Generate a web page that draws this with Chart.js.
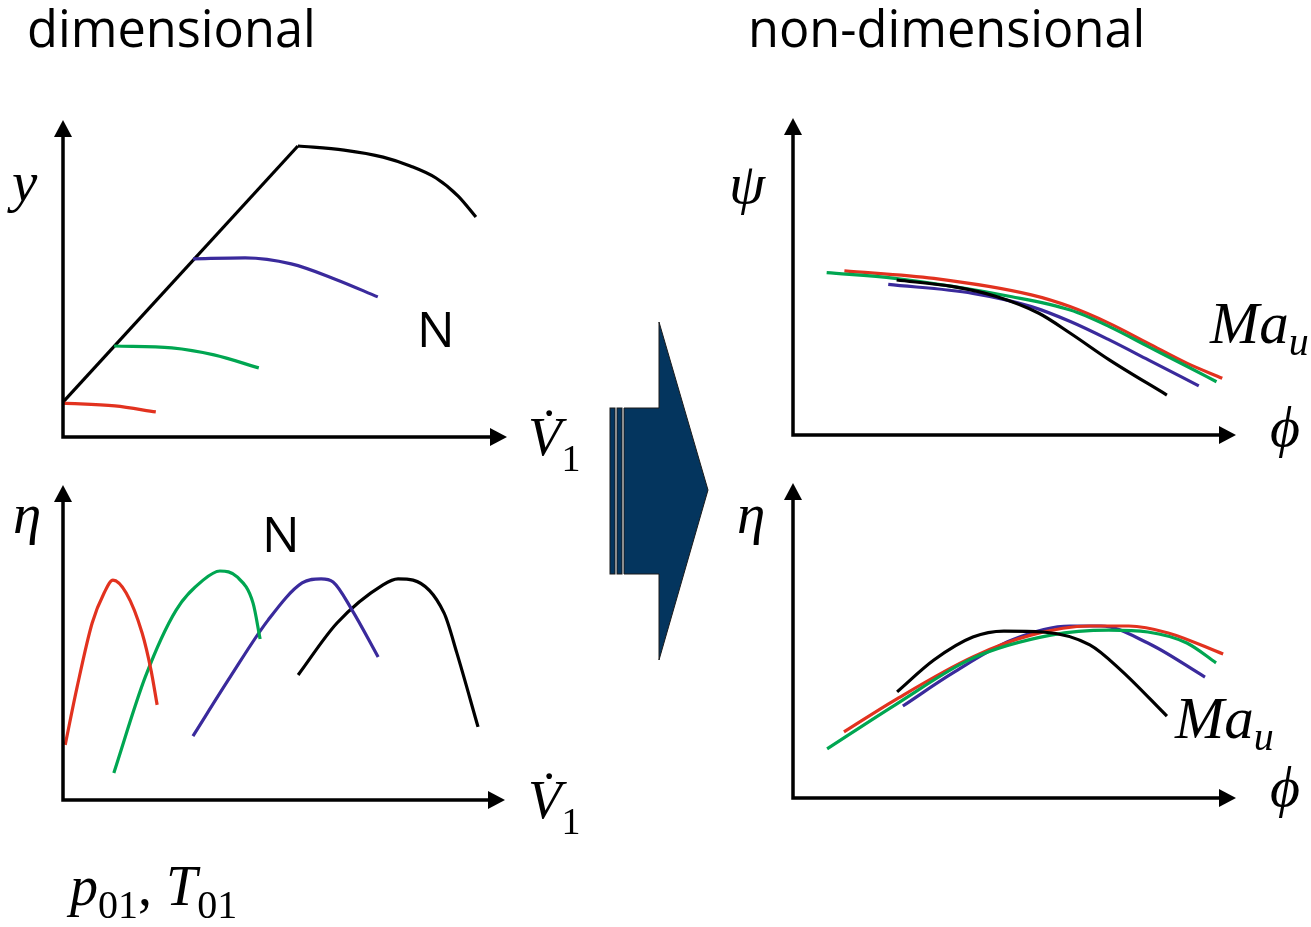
<!DOCTYPE html>
<html>
<head>
<meta charset="utf-8">
<script src="https://cdn.jsdelivr.net/npm/chart.js@4.4.1/dist/chart.umd.min.js"></script>
<style>
  html, body { margin: 0; padding: 0; background: #fff; }
  #page { position: relative; width: 1311px; height: 927px; overflow: hidden; }
  .panel { position: absolute; }
  #overlay { position: absolute; left: 0; top: 0; }
  .sans { font-family: "Open Sans", "Noto Sans", sans-serif; fill: #000; }
  .math { font-family: "Liberation Serif", "DejaVu Serif", serif; font-style: italic; fill: #000; }
  .up { font-style: normal; }
</style>
</head>
<body>
<div id="page">
  <div class="panel" style="left:40px;top:100px"><canvas id="dimHead" width="490" height="350"></canvas></div>
  <div class="panel" style="left:40px;top:465px"><canvas id="dimEff" width="490" height="350"></canvas></div>
  <div class="panel" style="left:770px;top:98px"><canvas id="ndHead" width="490" height="350"></canvas></div>
  <div class="panel" style="left:770px;top:463px"><canvas id="ndEff" width="490" height="350"></canvas></div>

  <svg id="overlay" width="1311" height="927">
    <!-- big transition arrow -->
    <rect x="610" y="408" width="5" height="166" fill="#04355e" stroke="#1b1b1b" stroke-width="1"/>
    <rect x="617" y="408" width="5" height="166" fill="#04355e" stroke="#1b1b1b" stroke-width="1"/>
    <polygon points="624,408 659,408 659,322 708,490 659,660 659,574 624,574"
             fill="#04355e" stroke="#1b1b1b" stroke-width="1"/>

    <text class="sans" x="27" y="47" font-size="50.5">dimensional</text>
    <text class="sans" x="748" y="47" font-size="50.5">non-dimensional</text>

    <text class="math" x="12" y="201" font-size="57">y</text>
    <text class="sans" x="417" y="347" font-size="50">N</text>
    <text class="math" x="528" y="455" font-size="55">V&#775;<tspan class="up" font-size="38" dy="16">1</tspan></text>

    <text class="math" x="13" y="533" font-size="57">η</text>
    <text class="sans" x="262" y="552" font-size="50">N</text>
    <text class="math" x="528" y="818" font-size="55">V&#775;<tspan class="up" font-size="38" dy="16">1</tspan></text>

    <text class="math" x="729" y="203" font-size="58">ψ</text>
    <text class="math" x="1210" y="343" font-size="59">Ma<tspan font-size="40" dy="12">u</tspan></text>
    <text class="math" x="1270" y="446" font-size="58">ϕ</text>

    <text class="math" x="737" y="533" font-size="57">η</text>
    <text class="math" x="1175" y="738" font-size="59">Ma<tspan font-size="40" dy="12">u</tspan></text>
    <text class="math" x="1270" y="806" font-size="58">ϕ</text>

    <text class="math" x="70" y="905" font-size="56">p<tspan class="up" font-size="40" dy="13">01</tspan><tspan class="up" dy="-13">, </tspan>T<tspan class="up" font-size="40" dy="13">01</tspan></text>
  </svg>
</div>

<script>
// Values in axis units: 0..10 along each axis
// (0 = origin, 10 = arrow tip).

const RED = '#e2321f';
const GREEN = '#00a651';
const BLUE = '#3a2a9c';
const BLACK = '#000000';

// dimensional: pressure-rise line vs volume flow
const dimSurgeLine = [[0, 1.10], [5.29, 9.18]];
const dimHeadRed = [[0, 1.07], [1.17, 0.98], [2.09, 0.79]];
const dimHeadGreen = [[1.15, 2.87], [2.45, 2.81], [3.40, 2.59], [4.41, 2.18]];
const dimHeadBlue = [[2.93, 5.62], [4.10, 5.65], [5.14, 5.46], [6.13, 4.98], [7.09, 4.42]];
const dimHeadBlack = [[5.29, 9.18], [6.33, 9.05], [7.21, 8.83], [7.82, 8.55], [8.40, 8.17], [8.90, 7.60], [9.30, 6.94]];

// dimensional: efficiency vs volume flow
const dimEffRed = [[0.05, 1.75], [0.32, 3.59], [0.66, 5.62], [0.93, 6.57], [1.13, 6.98], [1.43, 6.57], [1.79, 5.30], [1.99, 4.13], [2.13, 3.02]];
const dimEffGreen = [[1.15, 0.86], [1.86, 3.90], [2.56, 6.03], [3.17, 6.98], [3.55, 7.27], [3.94, 7.08], [4.30, 6.25], [4.46, 5.11]];
const dimEffBlue = [[2.94, 2.03], [3.78, 3.90], [4.64, 5.71], [5.41, 6.89], [5.84, 7.02], [6.11, 6.92], [6.54, 6.03], [7.13, 4.54]];
const dimEffBlack = [[5.32, 3.97], [6.20, 5.62], [7.24, 6.83], [7.58, 7.02], [7.92, 6.98], [8.62, 5.94], [8.91, 4.67], [9.39, 2.32]];

// non-dimensional: work coefficient vs flow coefficient
const ndHeadRed = [[1.16, 5.18], [3.18, 4.94], [5.38, 4.42], [6.25, 4.05], [7.14, 3.52], [8.02, 2.89], [8.90, 2.26], [9.69, 1.79]];
const ndHeadGreen = [[0.76, 5.12], [2.30, 4.94], [4.94, 4.36], [6.26, 3.94], [7.14, 3.42], [8.02, 2.79], [8.90, 2.16], [9.56, 1.68]];
const ndHeadBlue = [[2.15, 4.75], [4.06, 4.47], [5.38, 4.05], [6.26, 3.58], [7.14, 3.00], [8.02, 2.37], [9.16, 1.55]];
const ndHeadBlack = [[2.34, 4.89], [3.62, 4.68], [4.59, 4.37], [5.55, 3.84], [6.26, 3.21], [7.14, 2.37], [8.44, 1.26]];

// non-dimensional: efficiency vs flow coefficient
const ndEffRed = [[1.15, 2.10], [2.30, 3.11], [4.06, 4.48], [5.37, 5.17], [6.70, 5.46], [7.58, 5.46], [8.47, 5.24], [9.71, 4.57]];
const ndEffGreen = [[0.77, 1.56], [2.30, 2.95], [4.06, 4.44], [5.82, 5.17], [7.13, 5.33], [8.01, 5.27], [8.89, 4.92], [9.55, 4.29]];
const ndEffBlue = [[2.48, 2.92], [3.61, 3.97], [4.94, 5.02], [6.25, 5.46], [6.95, 5.46], [8.01, 4.92], [9.30, 3.84]];
const ndEffBlack = [[2.35, 3.37], [3.18, 4.38], [4.06, 5.11], [4.76, 5.30], [5.64, 5.27], [6.70, 4.86], [7.40, 4.06], [8.44, 2.60]];

// draws the two axes with arrow heads along the chart area edges
const arrowAxes = {
  id: 'arrowAxes',
  afterDraw(chart) {
    const { ctx, chartArea: a } = chart;
    const head = 17, half = 9;
    ctx.save();
    ctx.strokeStyle = '#000';
    ctx.fillStyle = '#000';
    ctx.lineWidth = 3.5;
    ctx.lineCap = 'butt';
    ctx.beginPath();
    ctx.moveTo(a.left, a.top + head - 1);
    ctx.lineTo(a.left, a.bottom);
    ctx.lineTo(a.right - head + 1, a.bottom);
    ctx.stroke();
    ctx.beginPath();
    ctx.moveTo(a.left, a.top);
    ctx.lineTo(a.left - half, a.top + head);
    ctx.lineTo(a.left + half, a.top + head);
    ctx.closePath();
    ctx.fill();
    ctx.beginPath();
    ctx.moveTo(a.right, a.bottom);
    ctx.lineTo(a.right - head, a.bottom - half);
    ctx.lineTo(a.right - head, a.bottom + half);
    ctx.closePath();
    ctx.fill();
    ctx.restore();
  }
};

function series(points, color, straight) {
  return {
    data: points.map(p => ({ x: p[0], y: p[1] })),
    borderColor: color,
    borderWidth: 3.2,
    pointRadius: 0,
    fill: false,
    clip: false,
    tension: straight ? 0 : 0.4,
    cubicInterpolationMode: straight ? 'default' : 'monotone',
    borderCapStyle: 'butt'
  };
}

function makePanel(id, padding, datasets) {
  return new Chart(document.getElementById(id), {
    type: 'line',
    data: { datasets },
    options: {
      responsive: false,
      animation: false,
      devicePixelRatio: 1,
      layout: { padding },
      plugins: { legend: { display: false }, tooltip: { enabled: false } },
      scales: {
        x: { type: 'linear', min: 0, max: 10, display: false },
        y: { type: 'linear', min: 0, max: 10, display: false }
      }
    },
    plugins: [arrowAxes]
  });
}

makePanel('dimHead', { left: 23, right: 23, top: 20, bottom: 13 }, [
  series(dimHeadRed, RED),
  series(dimHeadGreen, GREEN),
  series(dimHeadBlue, BLUE),
  series(dimHeadBlack, BLACK),
  series(dimSurgeLine, BLACK, true)
]);

makePanel('dimEff', { left: 23, right: 25, top: 20, bottom: 15 }, [
  series(dimEffRed, RED),
  series(dimEffGreen, GREEN),
  series(dimEffBlue, BLUE),
  series(dimEffBlack, BLACK)
]);

makePanel('ndHead', { left: 23, right: 24, top: 20, bottom: 13 }, [
  series(ndHeadBlack, BLACK),
  series(ndHeadBlue, BLUE),
  series(ndHeadGreen, GREEN),
  series(ndHeadRed, RED)
]);

makePanel('ndEff', { left: 23, right: 24, top: 20, bottom: 15 }, [
  series(ndEffBlack, BLACK),
  series(ndEffGreen, GREEN),
  series(ndEffRed, RED),
  series(ndEffBlue, BLUE)
]);
</script>
</body>
</html>
